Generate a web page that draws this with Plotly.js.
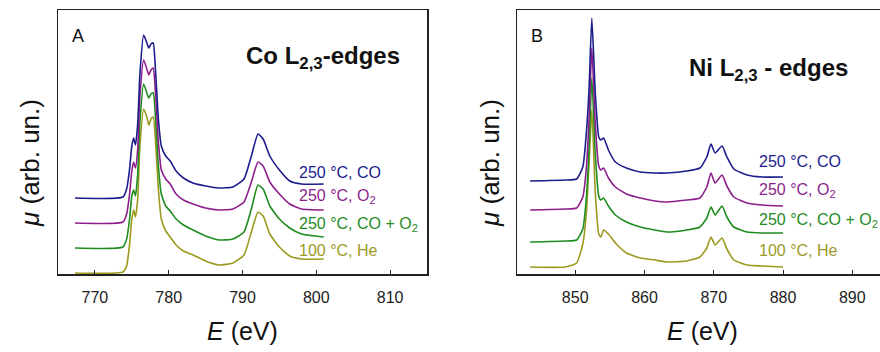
<!DOCTYPE html>
<html><head><meta charset="utf-8">
<script src="https://cdn.plot.ly/plotly-3.0.1.min.js"></script>
<style>html,body{margin:0;padding:0;background:#fff;overflow:hidden}</style>
</head><body><div id="chart" style="width:880px;height:352px"></div>
<script>
// ---- Panel A: Co L2,3-edges (energy in eV, intensity in arbitrary units) ----
const energyA = [767.3, 773.8, 774.3, 774.7, 775.0, 775.25, 775.5, 775.8, 776.1, 776.6, 777.0, 777.3, 777.6, 777.9, 778.2, 778.6, 779.0, 779.6, 780.2, 781.0, 782.0, 783.3, 785.0, 786.8, 788.7, 790.2, 791.2, 792.1, 792.8, 793.7, 795.0, 796.4, 798.0, 801.0];
const coCO   = [76, 77, 85, 105, 128, 136, 129, 150, 200, 239, 232, 226, 230, 231, 205, 155, 128, 118, 113, 103, 96, 91, 88, 86, 87, 95, 118, 140, 135, 118, 104, 93, 90, 90];
const coO2   = [51, 52, 60, 80, 103, 112, 106, 125, 178, 214, 206, 199, 204, 206, 182, 132, 104, 95, 90, 80, 74, 70, 66, 64, 65, 72, 92, 112, 108, 92, 80, 70, 65, 64];
const coCOO2 = [26, 27, 35, 55, 78, 84, 78, 100, 152, 190, 182, 176, 180, 181, 158, 108, 80, 68, 63, 55, 49, 44, 38, 34, 35, 42, 65, 89, 85, 68, 55, 46, 40, 37];
const coHe   = [1, 2, 8, 30, 55, 64, 57, 75, 128, 165, 158, 149, 155, 157, 135, 85, 55, 43, 37, 29, 23, 19, 13, 9, 11, 19, 42, 62, 58, 40, 27, 18, 15, 15];

// ---- Panel B: Ni L2,3-edges ----
const energyB = [843.5, 848.5, 850.2, 851.1, 851.6, 852.0, 852.4, 852.9, 853.4, 853.7, 854.1, 854.8, 855.8, 857.4, 859.4, 861.5, 863.2, 866.1, 868.0, 869.0, 869.6, 870.2, 871.2, 871.9, 872.9, 874.8, 877.0, 880.0];
const niCO   = [93, 94, 95, 107, 140, 185, 256, 181, 137, 134, 136, 124, 112, 106, 102, 101, 101, 103, 106, 117, 130, 121, 128, 117, 105, 99, 97, 97];
const niO2   = [64, 65, 66, 77, 105, 155, 226, 150, 108, 104, 106, 96, 87, 80, 76, 73, 72, 74, 76, 87, 101, 91, 99, 88, 77, 71, 69, 68];
const niCOO2 = [32, 33, 34, 45, 75, 125, 196, 120, 78, 74, 76, 68, 59, 52, 47, 44, 42, 44, 47, 56, 67, 59, 68, 57, 47, 42, 41, 41];
const niHe   = [7, 7, 11, 30, 60, 110, 164, 81, 40, 37, 44, 40, 31, 21, 16, 14, 12, 13, 17, 26, 37, 29, 36, 25, 14, 9, 8, 7];

const seriesNames = ['250 °C, CO', '250 °C, O<sub>2</sub>', '250 °C, CO + O<sub>2</sub>', '100 °C, He'];
const seriesColors = ['#1c1c8c', '#8c1f8c', '#1f8c1f', '#9c9a1e'];
const ticksA = [770, 780, 790, 800, 810];
const ticksB = [850, 860, 870, 880, 890];

const W = 880, PT = 10, PB = 274, PH = PB - PT;
const px = x => x / W;
const py = y => (PB - y) / PH;
const FONT = 'Liberation Sans, Arial, sans-serif';

const dataA = [coCO, coO2, coCOO2, coHe];
const dataB = [niCO, niO2, niCOO2, niHe];
const traces = [];
[3,2,1,0].forEach(i => {
  traces.push({x: energyA, y: dataA[i], xaxis: 'x', yaxis: 'y', mode: 'lines', name: seriesNames[i],
    line: {color: seriesColors[i], width: 1.6, shape: 'spline', smoothing: 0.5}, hoverinfo: 'skip'});
});
[3,2,1,0].forEach(i => {
  traces.push({x: energyB, y: dataB[i], xaxis: 'x2', yaxis: 'y2', mode: 'lines', name: seriesNames[i],
    line: {color: seriesColors[i], width: 1.6, shape: 'spline', smoothing: 0.5}, hoverinfo: 'skip'});
});

const axisCommon = {showline: true, linecolor: '#222', linewidth: 1.5, showgrid: false, zeroline: false};
const xCommon = Object.assign({}, axisCommon, {ticks: 'inside', ticklen: 4, tickwidth: 1, tickcolor: '#222',
  tickfont: {family: FONT, size: 16, color: '#222'}, ticklabelstandoff: 8});

function ann(x, y, text, font, extra) {
  return Object.assign({xref: 'paper', yref: 'paper', x: px(x), y: py(y), xanchor: 'center', yanchor: 'middle',
    text: text, showarrow: false, font: font}, extra || {});
}

const labelYA = [172, 197, 224, 250];
const labelYB = [161, 190, 220, 250];
const annotations = [];
for (let i = 0; i < 4; i++) {
  annotations.push(ann(297, labelYA[i], seriesNames[i], {family: FONT, size: 16, color: seriesColors[i]}, {xanchor: 'left'}));
  annotations.push(ann(757, labelYB[i], seriesNames[i], {family: FONT, size: 16, color: seriesColors[i]}, {xanchor: 'left'}));
}
annotations.push(
  ann(78, 36, 'A', {family: FONT, size: 18, color: '#111'}),
  ann(537, 36, 'B', {family: FONT, size: 18, color: '#111'}),
  ann(244, 58, '<b>Co L<sub>2,3</sub>-edges</b>', {family: FONT, size: 24, color: '#111'}, {xanchor: 'left'}),
  ann(687, 69, '<b>Ni L<sub>2,3</sub> - edges</b>', {family: FONT, size: 24, color: '#111'}, {xanchor: 'left'}),
  ann(242, 331, '<i>E</i> (eV)', {family: FONT, size: 25, color: '#111'}),
  ann(702, 331, '<i>E</i> (eV)', {family: FONT, size: 25, color: '#111'}),
  ann(30, 163, '<i>μ</i> (arb. un.)', {family: FONT, size: 26, color: '#111'}, {textangle: -90}),
  ann(490, 163, '<i>μ</i> (arb. un.)', {family: FONT, size: 26, color: '#111'}, {textangle: -90})
);

const layout = {
  width: 880, height: 352,
  margin: {l: 0, r: 0, t: PT, b: 352 - PB, pad: 0},
  paper_bgcolor: '#fff', plot_bgcolor: '#fff', showlegend: false,
  xaxis: Object.assign({}, xCommon, {domain: [px(58), px(427)], range: [765, 815], tickvals: ticksA, mirror: true, anchor: 'y'}),
  yaxis: Object.assign({}, axisCommon, {domain: [0, 1], range: [0, 264], showticklabels: false, ticks: '', mirror: true, anchor: 'x'}),
  xaxis2: Object.assign({}, xCommon, {domain: [px(517), 1], range: [841.6, 894], tickvals: ticksB, mirror: true, anchor: 'y2'}),
  yaxis2: Object.assign({}, axisCommon, {domain: [0, 1], range: [0, 264], showticklabels: false, ticks: '', mirror: false, anchor: 'x2'}),
  annotations: annotations
};
Plotly.newPlot('chart', traces, layout, {staticPlot: true, displayModeBar: false});
</script></body></html>
